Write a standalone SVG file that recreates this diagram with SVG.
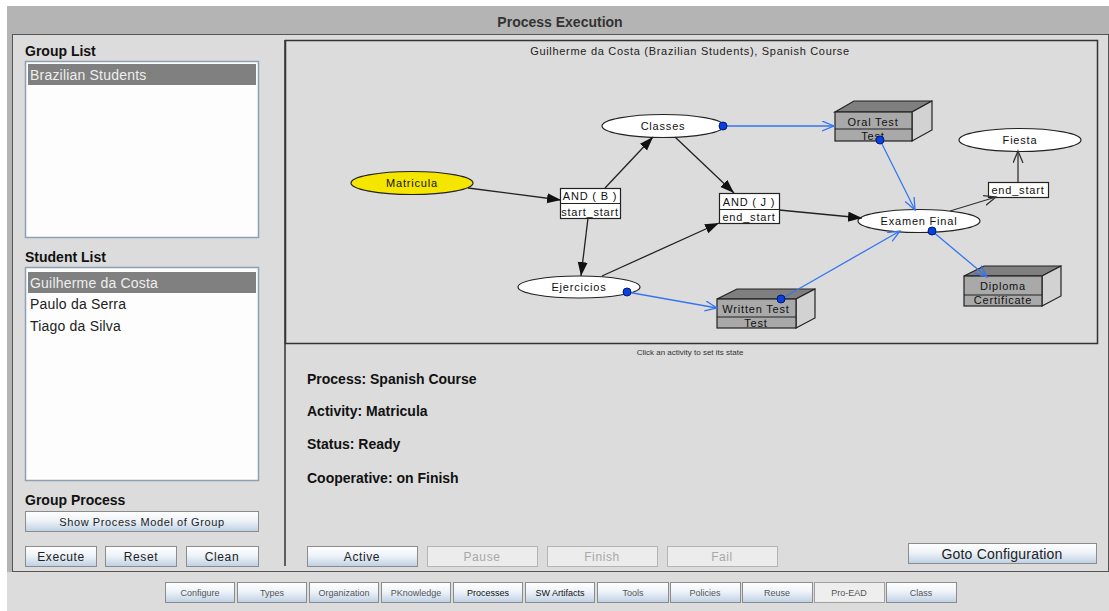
<svg xmlns="http://www.w3.org/2000/svg" width="1109" height="611" viewBox="0 0 1109 611">
<defs>
<linearGradient id="btnGrad" x1="0" y1="0" x2="0" y2="1">
<stop offset="0" stop-color="#ffffff"/>
<stop offset="0.45" stop-color="#eef3f8"/>
<stop offset="1" stop-color="#bfd0e4"/>
</linearGradient>
<marker id="arrowFill" markerUnits="userSpaceOnUse" markerWidth="15" markerHeight="11" refX="14" refY="5" orient="auto">
<path d="M0,0 L14,5 L0,10 z" fill="#111"/>
</marker>
<marker id="arrowOpenDark" markerUnits="userSpaceOnUse" markerWidth="14" markerHeight="12" refX="12" refY="5.5" orient="auto">
<path d="M0,0.5 L12,5.5 L0,10.5" fill="none" stroke="#333" stroke-width="1.3"/>
</marker>
<marker id="arrowOpenBlue" markerUnits="userSpaceOnUse" markerWidth="14" markerHeight="12" refX="12" refY="5.5" orient="auto">
<path d="M0,0.5 L12,5.5 L0,10.5" fill="none" stroke="#3575f2" stroke-width="1.3"/>
</marker>
</defs>
<style>
.lbl{font-family:"Liberation Sans",Arial,sans-serif;font-weight:bold;font-size:14px;fill:#111}
.item{font-family:"Liberation Sans",Arial,sans-serif;font-size:14px;fill:#222;letter-spacing:0.2px}
.sel{fill:#eeeeee}
.btn{fill:url(#btnGrad);stroke:#8c8c8c;stroke-width:1}
.btnOff{fill:#ececec;stroke:#b4b4b4;stroke-width:1}
.bt{font-family:"Liberation Sans",Arial,sans-serif;font-size:12px;fill:#222;text-anchor:middle;letter-spacing:0.6px}
.btOff{font-family:"Liberation Sans",Arial,sans-serif;font-size:12px;fill:#a8a8a8;text-anchor:middle;letter-spacing:0.6px}
.tb{font-family:"Liberation Sans",Arial,sans-serif;font-size:9px;fill:#555;text-anchor:middle}
.node{fill:#ffffff;stroke:#222;stroke-width:1.2}
.nt{font-family:"Liberation Sans",Arial,sans-serif;font-size:11px;fill:#111;text-anchor:middle;letter-spacing:0.8px}
.front{fill:#a9a9a9;stroke:#222;stroke-width:1.2}
.top{fill:#7f7f7f;stroke:#222;stroke-width:1.2}
.side{fill:#d2d2d2;stroke:#222;stroke-width:1.2}
.blk{stroke:#222;stroke-width:1.3;fill:none;marker-end:url(#arrowFill)}
.drk{stroke:#333;stroke-width:1.3;fill:none;marker-end:url(#arrowOpenDark)}
.blu{stroke:#3575f2;stroke-width:1.3;fill:none;marker-end:url(#arrowOpenBlue)}
.dot{fill:#0a3fe0;stroke:#001a70;stroke-width:1}
.info{font-family:"Liberation Sans",Arial,sans-serif;font-weight:bold;font-size:14px;fill:#111}
</style>

<!-- window chrome -->
<rect x="0" y="0" width="1109" height="611" fill="#ffffff"/>
<rect x="7" y="6" width="1102" height="605" fill="#b4b4b4"/>
<text x="560" y="27" text-anchor="middle" font-family="Liberation Sans, Arial, sans-serif" font-weight="bold" font-size="14" fill="#333">Process Execution</text>
<rect x="12.5" y="34.5" width="1096" height="537" fill="#dcdcdc" stroke="#555" stroke-width="1"/>
<rect x="7" y="572" width="1102" height="39" fill="#dcdcdc"/>

<!-- left panel -->
<g id="group-list">
<text class="lbl" x="25" y="56">Group List</text>
<rect x="25.5" y="61.5" width="233" height="176" fill="#fdfdfd" stroke="#8da0b4" stroke-width="1.5"/>
<rect x="28" y="64" width="228" height="21" fill="#808080"/>
<text class="item sel" x="30" y="80">Brazilian Students</text>
</g>
<g id="student-list">
<text class="lbl" x="25" y="262">Student List</text>
<rect x="25.5" y="267.5" width="233" height="213" fill="#fdfdfd" stroke="#8da0b4" stroke-width="1.5"/>
<rect x="28" y="272" width="228" height="21" fill="#808080"/>
<text class="item sel" x="30" y="288">Guilherme da Costa</text>
<text class="item" x="30" y="309">Paulo da Serra</text>
<text class="item" x="30" y="331">Tiago da Silva</text>
</g>
<g id="group-process">
<text class="lbl" x="25" y="505">Group Process</text>
<rect class="btn" x="25.5" y="511.5" width="233" height="20"/>
<text class="bt" x="142" y="525.5" style="font-size:11px">Show Process Model of Group</text>
<rect class="btn" x="25.5" y="546.5" width="71" height="20"/>
<text class="bt" x="61" y="561">Execute</text>
<rect class="btn" x="105.5" y="546.5" width="71" height="20"/>
<text class="bt" x="141" y="561">Reset</text>
<rect class="btn" x="186.5" y="546.5" width="72" height="20"/>
<text class="bt" x="222" y="561">Clean</text>
</g>

<!-- graph area -->
<line x1="285" y1="40" x2="285" y2="566" stroke="#333" stroke-width="1.5"/>
<rect x="285.5" y="40.5" width="812" height="303" fill="#dcdcdc" stroke="#333" stroke-width="1.5"/>
<text x="690" y="55" text-anchor="middle" font-family="Liberation Sans, Arial, sans-serif" font-size="11" fill="#222" letter-spacing="0.7">Guilherme da Costa (Brazilian Students), Spanish Course</text>
<text x="690" y="355" text-anchor="middle" font-family="Liberation Sans, Arial, sans-serif" font-size="8" fill="#333">Click an activity to set its state</text>

<g id="matricula">
<ellipse cx="412" cy="183" rx="61" ry="11.5" fill="#f5e600" stroke="#222" stroke-width="1.2"/>
<text class="nt" x="412" y="187">Matricula</text>
</g>
<g id="and-b">
<rect class="node" x="560.5" y="188.5" width="60" height="30"/>
<line x1="560.5" y1="203.5" x2="620.5" y2="203.5" stroke="#222" stroke-width="1.2"/>
<text class="nt" x="590" y="200">AND ( B )</text>
<text class="nt" x="590" y="215.5">start_start</text>
</g>
<g id="classes">
<ellipse class="node" cx="663" cy="126" rx="61" ry="11.5"/>
<text class="nt" x="663" y="130">Classes</text>
</g>
<g id="ejercicios">
<ellipse class="node" cx="579" cy="287" rx="61" ry="11"/>
<text class="nt" x="579" y="291">Ejercicios</text>
</g>
<g id="and-j">
<rect class="node" x="719.5" y="193.5" width="60" height="30"/>
<line x1="719.5" y1="209.5" x2="779.5" y2="209.5" stroke="#222" stroke-width="1.2"/>
<text class="nt" x="749" y="205.5">AND ( J )</text>
<text class="nt" x="749" y="221">end_start</text>
</g>
<g id="oral-test">
<polygon class="top" points="835,112 854,101 932,101 912,112"/>
<polygon class="side" points="912,112 932,101 932,130 912,141"/>
<rect class="front" x="835" y="112" width="77" height="29"/>
<line x1="835" y1="129" x2="912" y2="129" stroke="#222" stroke-width="1.2"/>
<text class="nt" x="873" y="125.5">Oral Test</text>
<text class="nt" x="873" y="139.5">Test</text>
</g>
<g id="written-test">
<polygon class="top" points="717,299 737,289 815,289 796,299"/>
<polygon class="side" points="796,299 815,289 815,318 796,328"/>
<rect class="front" x="717" y="299" width="79" height="29"/>
<line x1="717" y1="317" x2="796" y2="317" stroke="#222" stroke-width="1.2"/>
<text class="nt" x="756" y="312.5">Written Test</text>
<text class="nt" x="756" y="327">Test</text>
</g>
<g id="examen-final">
<ellipse class="node" cx="919" cy="221" rx="61" ry="11.5"/>
<text class="nt" x="919" y="225">Examen Final</text>
</g>
<g id="end-start">
<rect class="node" x="988.5" y="182.5" width="60" height="15"/>
<text class="nt" x="1018" y="194">end_start</text>
</g>
<g id="fiesta">
<ellipse class="node" cx="1020" cy="140" rx="61" ry="11.5"/>
<text class="nt" x="1020" y="144">Fiesta</text>
</g>
<g id="diploma">
<polygon class="top" points="964,276 984,266 1061,266 1042,276"/>
<polygon class="side" points="1042,276 1061,266 1061,296 1042,306"/>
<rect class="front" x="964" y="276" width="78" height="30"/>
<line x1="964" y1="295" x2="1042" y2="295" stroke="#222" stroke-width="1.2"/>
<text class="nt" x="1003" y="290">Diploma</text>
<text class="nt" x="1003" y="304">Certificate</text>
</g>

<g id="connectors">
<line class="blk" x1="468" y1="188" x2="561" y2="200"/>
<line class="blk" x1="605" y1="188" x2="653" y2="137"/>
<line class="blk" x1="588" y1="218" x2="581" y2="276"/>
<line class="blk" x1="675" y1="137" x2="734" y2="193"/>
<line class="blk" x1="602" y1="276" x2="719" y2="223"/>
<line class="blk" x1="779" y1="210" x2="862" y2="218"/>
<line class="drk" x1="950" y1="211" x2="996" y2="197"/>
<line class="drk" x1="1018" y1="182" x2="1018" y2="151"/>
<line class="blu" x1="723" y1="126" x2="834" y2="126"/>
<line class="blu" x1="880" y1="140" x2="915" y2="210"/>
<line class="blu" x1="627" y1="292" x2="717" y2="308"/>
<line class="blu" x1="781" y1="299" x2="900" y2="231"/>
<line class="blu" x1="932" y1="231" x2="987" y2="277"/>
<circle class="dot" cx="723" cy="126" r="4"/>
<circle class="dot" cx="880" cy="140" r="4"/>
<circle class="dot" cx="627" cy="292" r="4"/>
<circle class="dot" cx="781" cy="299" r="4"/>
<circle class="dot" cx="932" cy="231" r="4"/>
</g>

<!-- info panel -->
<g id="info">
<text class="info" x="307" y="384">Process: Spanish Course</text>
<text class="info" x="307" y="416">Activity: Matricula</text>
<text class="info" x="307" y="449">Status: Ready</text>
<text class="info" x="307" y="483">Cooperative: on Finish</text>
</g>
<g id="state-buttons">
<rect class="btn" x="307.5" y="546.5" width="110" height="20"/>
<text class="bt" x="362" y="561">Active</text>
<rect class="btnOff" x="427.5" y="546.5" width="110" height="20"/>
<text class="btOff" x="482" y="561">Pause</text>
<rect class="btnOff" x="547.5" y="546.5" width="110" height="20"/>
<text class="btOff" x="602" y="561">Finish</text>
<rect class="btnOff" x="667.5" y="546.5" width="110" height="20"/>
<text class="btOff" x="722" y="561">Fail</text>
<rect class="btn" x="908.5" y="543.5" width="188" height="20"/>
<text class="bt" x="1002" y="559" style="font-size:14px;letter-spacing:0.2px">Goto Configuration</text>
</g>

<!-- bottom toolbar -->
<g id="toolbar">
<rect class="btn" x="165.5" y="582.5" width="69" height="20"/>
<text class="tb" x="200" y="596">Configure</text>
<rect class="btn" x="237.5" y="582.5" width="69" height="20"/>
<text class="tb" x="272" y="596">Types</text>
<rect class="btn" x="309.5" y="582.5" width="69" height="20"/>
<text class="tb" x="344" y="596">Organization</text>
<rect class="btn" x="381.5" y="582.5" width="69" height="20"/>
<text class="tb" x="416" y="596">PKnowledge</text>
<rect class="btn" x="453.5" y="582.5" width="69" height="20"/>
<text class="tb" x="488" y="596" style="fill:#111">Processes</text>
<rect class="btn" x="525.5" y="582.5" width="69" height="20"/>
<text class="tb" x="560" y="596" style="fill:#111">SW Artifacts</text>
<rect class="btn" x="597.5" y="582.5" width="71" height="20"/>
<text class="tb" x="633" y="596">Tools</text>
<rect class="btn" x="670.5" y="582.5" width="70" height="20"/>
<text class="tb" x="705" y="596">Policies</text>
<rect class="btn" x="742.5" y="582.5" width="70" height="20"/>
<text class="tb" x="777" y="596">Reuse</text>
<rect x="814.5" y="582.5" width="70" height="20" fill="#eeeeee" stroke="#a0a0a0"/>
<text class="tb" x="849" y="596">Pro-EAD</text>
<rect class="btn" x="886.5" y="582.5" width="70" height="20"/>
<text class="tb" x="921" y="596">Class</text>
</g>
</svg>
